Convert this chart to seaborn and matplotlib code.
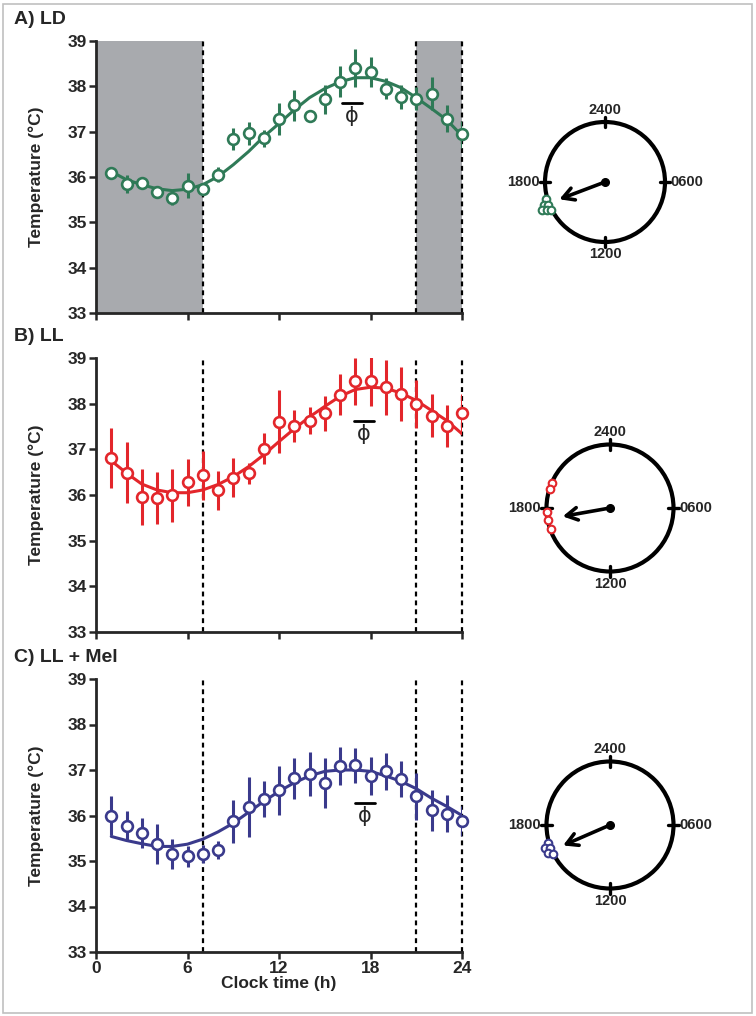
import numpy as np
import pandas as pd
import matplotlib
matplotlib.use("Agg")
import matplotlib.pyplot as plt
from matplotlib.patches import Circle, Rectangle
import seaborn as sns

sns.set_style("ticks")
plt.rcParams['font.family'] = ['Liberation Sans', 'DejaVu Sans']

# Datos (hora de reloj, media +/- error, ajuste cosinor)
hours = list(range(1, 25))

ld_mean = [36.08, 35.85, 35.86, 35.66, 35.53, 35.81, 35.74, 36.05, 36.83, 36.96, 36.85, 37.28,
           37.58, 37.34, 37.71, 38.10, 38.41, 38.31, 37.95, 37.77, 37.73, 37.84, 37.29, 36.94]
ld_sem = [0.05, 0.20, 0.10, 0.10, 0.15, 0.27, 0.10, 0.17, 0.24, 0.26, 0.18, 0.35,
          0.34, 0.08, 0.32, 0.34, 0.42, 0.33, 0.24, 0.27, 0.25, 0.37, 0.30, 0.30]
ld_fit = [36.12, 35.94, 35.83, 35.74, 35.70, 35.73, 35.83, 36.01, 36.27, 36.56, 36.89, 37.18,
          37.48, 37.75, 37.95, 38.10, 38.19, 38.19, 38.11, 37.97, 37.75, 37.51, 37.26, 36.91]

ll_mean = [36.81, 36.49, 35.96, 35.94, 35.99, 36.28, 36.43, 36.10, 36.38, 36.48, 37.01, 37.60,
           37.52, 37.63, 37.79, 38.20, 38.49, 38.49, 38.36, 38.21, 37.99, 37.74, 37.52, 37.79]
ll_sem = [0.65, 0.67, 0.61, 0.57, 0.58, 0.51, 0.53, 0.43, 0.43, 0.23, 0.34, 0.69,
          0.35, 0.30, 0.38, 0.44, 0.52, 0.55, 0.60, 0.60, 0.53, 0.47, 0.46, 0.43]
ll_fit = [36.75, 36.48, 36.24, 36.11, 36.05, 36.05, 36.11, 36.23, 36.40, 36.62, 36.88, 37.17,
          37.45, 37.71, 37.94, 38.16, 38.31, 38.36, 38.34, 38.23, 38.07, 37.85, 37.63, 37.34]

mel_mean = [36.00, 35.77, 35.61, 35.38, 35.15, 35.10, 35.15, 35.25, 35.87, 36.18, 36.36, 36.55,
            36.82, 36.91, 36.72, 37.09, 37.10, 36.87, 36.97, 36.80, 36.42, 36.11, 36.04, 35.88]
mel_sem = [0.42, 0.32, 0.33, 0.44, 0.33, 0.24, 0.20, 0.20, 0.48, 0.66, 0.40, 0.54,
           0.45, 0.49, 0.55, 0.42, 0.38, 0.41, 0.40, 0.40, 0.51, 0.46, 0.41, 0.32]
mel_fit = [35.54, 35.45, 35.38, 35.32, 35.32, 35.37, 35.48, 35.64, 35.83, 36.07, 36.31, 36.53,
           36.72, 36.87, 36.97, 37.00, 37.00, 36.97, 36.87, 36.75, 36.59, 36.38, 36.20, 36.00]

# Acrofase (barra y simbolo phi): inicio, fin, nivel
ld_phi = [16.15, 17.45, 37.64]
ll_phi = [16.9, 18.2, 37.63]
mel_phi = [17.0, 18.3, 36.27]

# Diagramas circulares: vector medio (hora, longitud) y fases individuales
ld_vec = [16.62, 0.86]
ld_pts_t = [16.91, 16.63, 16.52, 16.41, 16.29, 16.17]
ld_pts_r = [1.03, 1.09, 1.02, 1.14, 1.07, 1.01]
ll_vec = [17.33, 0.80]
ll_pts_t = [19.57, 19.15, 17.76, 17.25, 16.68]
ll_pts_r = [1.0, 0.99, 1.0, 0.99, 0.99]
mel_vec = [16.43, 0.85]
mel_pts_t = [16.91, 16.69, 16.59, 16.36, 16.19]
mel_pts_r = [1.02, 1.09, 1.02, 1.07, 1.01]

clock_hours = [0, 6, 12, 18]
clock_labels = ["2400", "0600", "1200", "1800"]

titles = ["A) LD", "B) LL", "C) LL + Mel"]
colors = ["#2f7a57", "#e3262b", "#3a3a8c"]
dark_periods = [(0, 7), (21, 24)]
light_lines = [7, 21, 24]

W, H = 756, 1016
fig = plt.figure(figsize=(W / 100, H / 100), dpi=100)
fig.patches.append(Rectangle((3 / W, 3 / H), 1 - 7 / W, 1 - 7 / H, transform=fig.transFigure,
                             fill=False, ec="#c0c0c0", lw=1.2))

panels = [
    (ld_mean, ld_sem, ld_fit, ld_phi, ld_vec, ld_pts_t, ld_pts_r),
    (ll_mean, ll_sem, ll_fit, ll_phi, ll_vec, ll_pts_t, ll_pts_r),
    (mel_mean, mel_sem, mel_fit, mel_phi, mel_vec, mel_pts_t, mel_pts_r),
]
ax_tops = [41, 358, 679]
ax_bottoms = [313, 632, 952]
clock_centers = [(605, 182, 60), (610, 508, 63.5), (610, 825, 63.5)]


def to_xy(t, r):
    th = np.radians(90 - np.asarray(t) * 15.0)
    return np.asarray(r) * np.cos(th), np.asarray(r) * np.sin(th)


for i, (mean, sem, fit, phi, vec, pts_t, pts_r) in enumerate(panels):
    col = colors[i]
    top, bot = ax_tops[i], ax_bottoms[i]
    ax = fig.add_axes([96 / W, 1 - bot / H, 366 / W, (bot - top) / H])
    df = pd.DataFrame({"hora": hours, "media": mean, "sem": sem, "ajuste": fit})

    if i == 0:
        for a, b in dark_periods:
            ax.axvspan(a, b, color="#a8aaae", lw=0, zorder=0)
    for x in light_lines:
        ax.plot([x, x], [33, 39], color="black", ls=(0, (2.2, 1.8)), lw=1.6, zorder=1, clip_on=False)

    sns.lineplot(data=df, x="hora", y="ajuste", ax=ax, color=col, lw=2.2, zorder=2)
    ax.vlines(df["hora"], df["media"] - df["sem"], df["media"] + df["sem"], color=col, lw=2.2, zorder=3)
    sns.scatterplot(data=df, x="hora", y="media", ax=ax, s=60, facecolor="white", edgecolor=col,
                    linewidth=1.9, zorder=4, clip_on=False)

    ax.plot([phi[0], phi[1]], [phi[2], phi[2]], color="black", lw=2, zorder=5)
    ax.text((phi[0] + phi[1]) / 2, phi[2] - 0.07, "ϕ", ha="center", va="top", fontsize=15,
            family=["DejaVu Sans"], zorder=5)

    ax.set_xlim(0, 24)
    ax.set_ylim(33, 39)
    ax.set_xticks([0, 6, 12, 18, 24])
    ax.set_yticks(range(33, 40))
    ax.set_xlabel("")
    ax.set_ylabel("Temperature (°C)", fontsize=12.5, fontweight="bold", labelpad=17)
    sns.despine(ax=ax)
    for s in ["left", "bottom"]:
        ax.spines[s].set_linewidth(2)
    ax.tick_params(width=1.8, length=5, labelsize=12.5, pad=1.5)
    for lab in ax.get_yticklabels() + ax.get_xticklabels():
        lab.set_fontweight("bold")
    if i < 2:
        ax.set_xticklabels([])
    else:
        ax.set_xlabel("Clock time (h)", fontsize=12.5, fontweight="bold", labelpad=0)
    fig.text(14 / W, 1 - (top - 22) / H, titles[i], fontsize=14, fontweight="bold",
             ha="left", va="center")

    # Diagrama de fase
    cx, cy, R = clock_centers[i]
    half = 1.45 * R
    cax = fig.add_axes([(cx - half) / W, 1 - (cy + half) / H, 2 * half / W, 2 * half / H])
    cax.set_xlim(-1.45, 1.45)
    cax.set_ylim(-1.45, 1.45)
    cax.set_aspect("equal")
    cax.axis("off")
    cax.add_patch(Circle((0, 0), 1, fill=False, ec="black", lw=3))
    for t, lab in zip(clock_hours, clock_labels):
        x0, y0 = to_xy(t, 0.92)
        x1, y1 = to_xy(t, 1.08)
        cax.plot([x0, x1], [y0, y1], color="black", lw=2.4)
        lx, ly = to_xy(t, 1.09)
        ha = {0: "center", 6: "left", 12: "center", 18: "right"}[t]
        va = {0: "bottom", 6: "center", 12: "top", 18: "center"}[t]
        cax.text(lx, ly, lab, ha=ha, va=va, fontsize=10.5, fontweight="bold")
    cax.plot(0, 0, "o", color="black", ms=5.5)
    ax_, ay_ = to_xy(vec[0], vec[1])
    cax.annotate("", xy=(ax_, ay_), xytext=(0, 0),
                 arrowprops=dict(arrowstyle="->,head_length=0.8,head_width=0.45", lw=2.6, color="black"))
    px, py = to_xy(pts_t, pts_r)
    sns.scatterplot(x=px, y=py, ax=cax, s=30, facecolor="white", edgecolor=col, linewidth=1.5,
                    zorder=5, clip_on=False)

fig.savefig("out.png", dpi=100)
